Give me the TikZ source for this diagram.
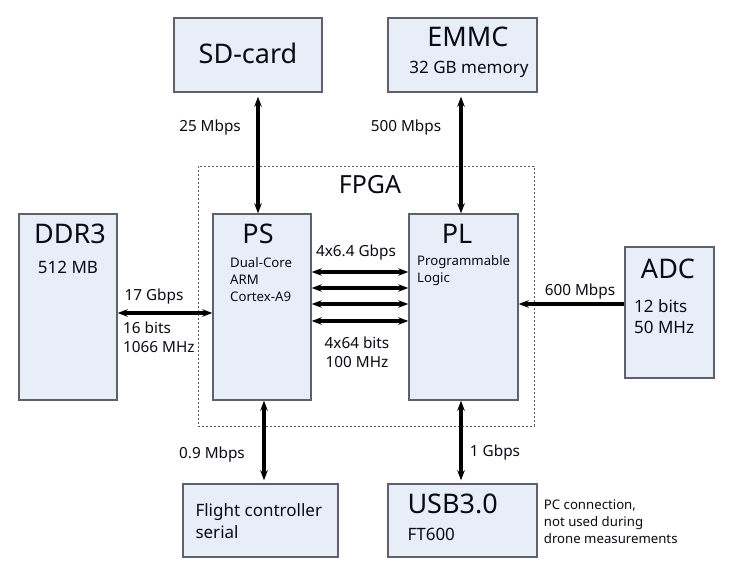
\documentclass[tikz,border=0pt]{standalone}
\usepackage{fontspec}
\setmainfont{Noto Sans}
\usetikzlibrary{arrows.meta, positioning}
\definecolor{blkfill}{RGB}{232,238,248}
\definecolor{blkline}{RGB}{96,96,106}
\definecolor{blktext}{RGB}{10,10,20}
\definecolor{fpgaline}{RGB}{90,90,90}
\tikzset{
  block/.style    = {rectangle, draw=blkline, line width=1.4pt, fill=blkfill,
                     inner sep=0pt, text=blktext},
  fpgabox/.style  = {rectangle, draw=fpgaline, line width=0.9pt,
                     dash pattern=on 2pt off 2pt, inner sep=0pt},
  title/.style    = {font=\fontsize{27}{31}\selectfont, text=blktext, inner sep=0pt},
  subtext/.style  = {font=\fontsize{17}{21.5}\selectfont, text=blktext, align=left, inner sep=0pt},
  ratelab/.style  = {font=\fontsize{15.3}{19}\selectfont, text=blktext, align=center, inner sep=0pt},
  smalltext/.style= {font=\fontsize{13.2}{17}\selectfont, text=blktext, align=left, inner sep=0pt},
  link/.style     = {{Stealth[length=10pt,width=7.5pt]}-{Stealth[length=10pt,width=7.5pt]},
                     line width=3.2pt, draw=black},
  onelink/.style  = {-{Stealth[length=10pt,width=7.5pt]}, line width=3.2pt, draw=black},
}

\begin{document}
\begin{tikzpicture}[x=1pt, y=1pt]
\useasboundingbox (0,0) rectangle (738,-571);

% ---------- FPGA frame ----------
\node[fpgabox, minimum width=336pt, minimum height=260pt] (fpga) at (366,-296) {};
\node[title, font=\fontsize{25}{29}\selectfont] (fpgatitle) at ([shift={(4,-19)}]fpga.north) {FPGA};

% ---------- Blocks ----------
\node[block, minimum width=98pt, minimum height=186pt] (ps) at (262,-307) {};
\node[block, minimum width=109pt, minimum height=186pt, right=96.6pt of ps] (pl) {};
\node[block, minimum width=98pt, minimum height=186pt, left=94.6pt of ps] (ddr) {};
\node[block, minimum width=89pt, minimum height=131pt, right=105.6pt of pl, yshift=-5.5pt] (adc) {};
\node[block, minimum width=148pt, minimum height=74pt, above=120.6pt of ps, xshift=-14pt] (sd) {};
\node[block, minimum width=149pt, minimum height=74pt, above=120.6pt of pl, xshift=-1pt] (emmc) {};
\node[block, minimum width=155pt, minimum height=73pt, below=82.6pt of ps, xshift=-1.5pt] (fc) {};
\node[block, minimum width=149pt, minimum height=73pt, below=82.6pt of pl, xshift=-1pt] (usb) {};

% ---------- Block texts ----------
\node[title] (pstitle) at ([shift={(-4,-21)}]ps.north) {PS};
\node[smalltext, anchor=west] (psdesc) at ([shift={(-32,-66)}]ps.north) {Dual-Core\\ARM\\Cortex-A9};
\node[title] (pltitle) at ([shift={(-6.5,-21)}]pl.north) {PL};
\node[smalltext, anchor=west] (pldesc) at ([shift={(-46.5,-57.5)}]pl.north) {Programmable\\Logic};
\node[title] (ddrtitle) at ([shift={(2,-21)}]ddr.north) {DDR3};
\node[subtext] (ddrsize) at ([shift={(0,-54)}]ddr.north) {512 MB};
\node[title] (adctitle) at ([shift={(-1.5,-23)}]adc.north) {ADC};
\node[subtext, anchor=west] (adcdesc) at ([shift={(-35.5,-70.5)}]adc.north) {12 bits\\50 MHz};
\node[title] (sdtitle) at ([yshift=2pt]sd.center) {SD-card};
\node[title] (emmctitle) at ([shift={(5.5,-20)}]emmc.north) {EMMC};
\node[subtext] (emmcsize) at ([shift={(6.5,-52)}]emmc.north) {32 GB memory};
\node[subtext, anchor=west] (fctitle) at ([shift={(13,-0.5)}]fc.west) {Flight controller\\serial};
\node[title, anchor=west] (usbtitle) at ([shift={(20,-21)}]usb.north west) {USB3.0};
\node[subtext, anchor=west] (usbchip) at ([shift={(20,-51)}]usb.north west) {FT600};
\node[smalltext, anchor=west] (usbnote) at ([shift={(6,-1.5)}]usb.east) {PC connection,\\not used during\\drone measurements};

% ---------- Connectors ----------
\draw[link, shorten >=4pt] ([xshift=-4pt]ps.north) -- ([xshift=-4pt]ps.north |- sd.south);
\draw[link, shorten >=4pt] ([xshift=-2.5pt]pl.north) -- ([xshift=-2.5pt]pl.north |- emmc.south);
\draw[link, shorten >=3pt] ([xshift=2pt]ps.south) -- ([xshift=2pt]ps.south |- fc.north);
\draw[link, shorten >=3pt] ([xshift=-2.5pt]pl.south) -- ([xshift=-2.5pt]pl.south |- usb.north);
\draw[link] ([yshift=-6pt]ddr.east) -- ([yshift=-6pt]ddr.east -| ps.west);
\foreach \dy in {35,19,3,-14}
  \draw[link] ([yshift=\dy pt]ps.east) -- ([yshift=\dy pt]ps.east -| pl.west);
\draw[onelink] ([yshift=8.5pt]adc.west) -- ([yshift=8.5pt]adc.west -| pl.east);

% ---------- Rate labels ----------
\node[ratelab] (sdrate) at (210,-128) {25 Mbps};
\node[ratelab] (emmcrate) at (406,-128) {500 Mbps};
\node[ratelab] (fcrate) at (212,-455) {0.9 Mbps};
\node[ratelab] (usbrate) at (495,-453) {1 Gbps};
\node[ratelab] (adcrate) at (580,-292) {600 Mbps};
\node[ratelab] (ddrrate) at (154,-297) {17 Gbps};
\node[ratelab, align=left, anchor=west] (ddrbus) at (123,-337.5) {16 bits\\1066 MHz};
\node[ratelab] (axirate) at (356,-253) {4x6.4 Gbps};
\node[ratelab] (axibus) at (357,-352.5) {4x64 bits\\100 MHz};

\end{tikzpicture}
\end{document}
